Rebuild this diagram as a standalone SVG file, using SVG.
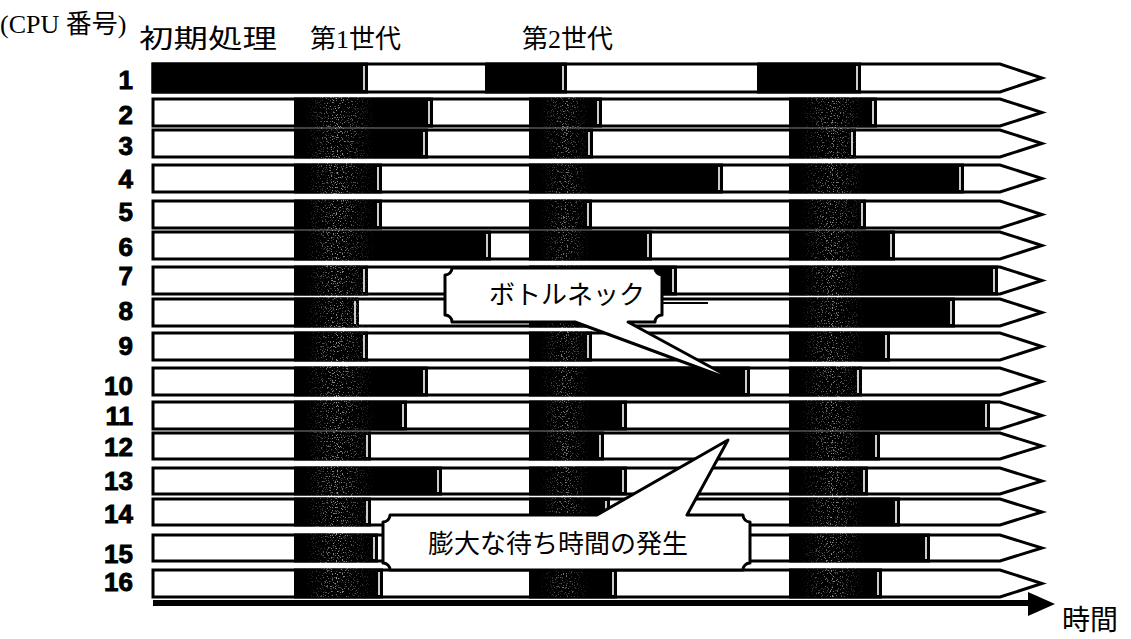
<svg xmlns="http://www.w3.org/2000/svg" width="1131" height="639" viewBox="0 0 1131 639">
<defs>
<style>
.bg{fill:#ffffff}
.row{fill:#ffffff;stroke:#000;stroke-width:3;stroke-linejoin:miter}
.blk{fill:#000;stroke:none}
.gap{stroke:#fff;stroke-width:1.6}
.num{font-family:"Liberation Sans",Arial,sans-serif;font-weight:bold;font-size:26px;fill:#000;stroke:#000;stroke-width:0.9;text-anchor:end}
.head{font-family:"Liberation Serif","Noto Sans CJK JP",serif;font-size:26px;fill:#000}
.call{fill:#fff;stroke:#000;stroke-width:3;stroke-linejoin:round}
.ctext{font-family:"Noto Sans CJK JP",sans-serif;font-size:26px;fill:#000}
</style>
<filter id="speck" filterUnits="userSpaceOnUse" x="280" y="90" width="620" height="515">
<feTurbulence type="fractalNoise" baseFrequency="0.8" numOctaves="2" seed="7" result="n"/>
<feColorMatrix in="n" type="matrix" values="0 0 0 0 1  0 0 0 0 1  0 0 0 0 1  9 0 0 0 -5.3" result="dots"/>
<feComposite in="dots" in2="SourceGraphic" operator="in"/>
</filter>
<linearGradient id="s1" gradientUnits="userSpaceOnUse" x1="305" y1="0" x2="375" y2="0">
<stop offset="0" stop-color="#fff" stop-opacity="0"/>
<stop offset="0.45" stop-color="#fff" stop-opacity="0.6"/>
<stop offset="1" stop-color="#fff" stop-opacity="0"/>
</linearGradient>
<linearGradient id="s2" gradientUnits="userSpaceOnUse" x1="540" y1="0" x2="590" y2="0">
<stop offset="0" stop-color="#fff" stop-opacity="0"/>
<stop offset="0.5" stop-color="#fff" stop-opacity="0.5"/>
<stop offset="1" stop-color="#fff" stop-opacity="0"/>
</linearGradient>
<linearGradient id="s3" gradientUnits="userSpaceOnUse" x1="800" y1="0" x2="865" y2="0">
<stop offset="0" stop-color="#fff" stop-opacity="0"/>
<stop offset="0.5" stop-color="#fff" stop-opacity="0.55"/>
<stop offset="1" stop-color="#fff" stop-opacity="0"/>
</linearGradient>
</defs>
<rect class="bg" x="0" y="0" width="1131" height="639"/>

<g id="headings">
<text class="head" x="0" y="33" font-size="30">(CPU 番号)</text>
<text class="head" x="139" y="48" textLength="138" lengthAdjust="spacingAndGlyphs">初期処理</text>
<text class="head" x="310" y="48">第1世代</text>
<text class="head" x="522" y="48">第2世代</text>
</g>

<g id="row1"><path class="row" d="M153,64 H1000 L1042,78 L1000,92 H153 Z"/>
<rect class="blk" x="151.5" y="62.5" width="216.5" height="31"/><line class="gap" x1="364" y1="66" x2="364" y2="90"/>
<rect class="blk" x="485" y="62.5" width="82" height="31"/><line class="gap" x1="563" y1="66" x2="563" y2="90"/>
<rect class="blk" x="757" y="62.5" width="104" height="31"/><line class="gap" x1="857" y1="66" x2="857" y2="90"/>
<text class="num" x="133" y="89">1</text></g>

<g id="row2"><path class="row" d="M153,99 H1000 L1042,112.5 L1000,126 H153 Z"/>
<rect class="blk" x="294" y="97.5" width="139" height="30"/><line class="gap" x1="429" y1="101" x2="429" y2="124"/>
<rect class="blk" x="529" y="97.5" width="73" height="30"/><line class="gap" x1="598" y1="101" x2="598" y2="124"/>
<rect class="blk" x="789" y="97.5" width="88" height="30"/><line class="gap" x1="873" y1="101" x2="873" y2="124"/>
<text class="num" x="133" y="124">2</text></g>

<g id="row3"><path class="row" d="M153,130 H1000 L1042,143.5 L1000,157 H153 Z"/>
<rect class="blk" x="294" y="128.5" width="134" height="30"/><line class="gap" x1="424" y1="132" x2="424" y2="155"/>
<rect class="blk" x="529" y="128.5" width="64" height="30"/><line class="gap" x1="589" y1="132" x2="589" y2="155"/>
<rect class="blk" x="789" y="128.5" width="67" height="30"/><line class="gap" x1="852" y1="132" x2="852" y2="155"/>
<text class="num" x="133" y="155">3</text></g>

<g id="row4"><path class="row" d="M153,165 H1000 L1042,178.5 L1000,192 H153 Z"/>
<rect class="blk" x="294" y="163.5" width="88" height="30"/><line class="gap" x1="378" y1="167" x2="378" y2="190"/>
<rect class="blk" x="529" y="163.5" width="194" height="30"/><line class="gap" x1="719" y1="167" x2="719" y2="190"/>
<rect class="blk" x="789" y="163.5" width="175" height="30"/><line class="gap" x1="960" y1="167" x2="960" y2="190"/>
<text class="num" x="133" y="188">4</text></g>

<g id="row5"><path class="row" d="M153,201 H1000 L1042,214.5 L1000,228 H153 Z"/>
<rect class="blk" x="294" y="199.5" width="88" height="30"/><line class="gap" x1="378" y1="203" x2="378" y2="226"/>
<rect class="blk" x="529" y="199.5" width="63" height="30"/><line class="gap" x1="588" y1="203" x2="588" y2="226"/>
<rect class="blk" x="789" y="199.5" width="77" height="30"/><line class="gap" x1="862" y1="203" x2="862" y2="226"/>
<text class="num" x="133" y="221">5</text></g>

<g id="row6"><path class="row" d="M153,232 H1000 L1042,245.5 L1000,259 H153 Z"/>
<rect class="blk" x="294" y="230.5" width="197" height="30"/><line class="gap" x1="487" y1="234" x2="487" y2="257"/>
<rect class="blk" x="529" y="230.5" width="123" height="30"/><line class="gap" x1="648" y1="234" x2="648" y2="257"/>
<rect class="blk" x="789" y="230.5" width="106" height="30"/><line class="gap" x1="891" y1="234" x2="891" y2="257"/>
<text class="num" x="133" y="256">6</text></g>

<g id="row7"><path class="row" d="M153,267 H1000 L1042,280.5 L1000,294 H153 Z"/>
<rect class="blk" x="294" y="265.5" width="74" height="30"/><line class="gap" x1="364" y1="269" x2="364" y2="292"/>
<rect class="blk" x="529" y="265.5" width="148" height="30"/><line class="gap" x1="673" y1="269" x2="673" y2="292"/>
<rect class="blk" x="789" y="265.5" width="209" height="30"/><line class="gap" x1="994" y1="269" x2="994" y2="292"/>
<text class="num" x="133" y="285">7</text></g>

<g id="row8"><path class="row" d="M153,299 H1000 L1042,312.5 L1000,326 H153 Z"/>
<rect class="blk" x="294" y="297.5" width="65" height="30"/><line class="gap" x1="355" y1="301" x2="355" y2="324"/>
<rect class="blk" x="529" y="297.5" width="71" height="30"/><line class="gap" x1="596" y1="301" x2="596" y2="324"/>
<rect class="blk" x="789" y="297.5" width="166" height="30"/><line class="gap" x1="951" y1="301" x2="951" y2="324"/>
<line x1="660" y1="303" x2="708" y2="303" stroke="#000" stroke-width="2"/>
<text class="num" x="133" y="320">8</text></g>

<g id="row9"><path class="row" d="M153,333 H1000 L1042,346.5 L1000,360 H153 Z"/>
<rect class="blk" x="294" y="331.5" width="74" height="30"/><line class="gap" x1="364" y1="335" x2="364" y2="358"/>
<rect class="blk" x="529" y="331.5" width="63" height="30"/><line class="gap" x1="588" y1="335" x2="588" y2="358"/>
<rect class="blk" x="789" y="331.5" width="101" height="30"/><line class="gap" x1="886" y1="335" x2="886" y2="358"/>
<text class="num" x="133" y="355">9</text></g>

<g id="row10"><path class="row" d="M153,368 H1000 L1042,381.5 L1000,395 H153 Z"/>
<rect class="blk" x="294" y="366.5" width="134" height="30"/><line class="gap" x1="424" y1="370" x2="424" y2="393"/>
<rect class="blk" x="529" y="366.5" width="221" height="30"/><line class="gap" x1="746" y1="370" x2="746" y2="393"/>
<rect class="blk" x="789" y="366.5" width="73" height="30"/><line class="gap" x1="858" y1="370" x2="858" y2="393"/>
<text class="num" x="133" y="395">10</text></g>

<g id="row11"><path class="row" d="M153,402 H1000 L1042,415.5 L1000,429 H153 Z"/>
<rect class="blk" x="294" y="400.5" width="113" height="30"/><line class="gap" x1="403" y1="404" x2="403" y2="427"/>
<rect class="blk" x="529" y="400.5" width="98" height="30"/><line class="gap" x1="623" y1="404" x2="623" y2="427"/>
<rect class="blk" x="789" y="400.5" width="201" height="30"/><line class="gap" x1="986" y1="404" x2="986" y2="427"/>
<text class="num" x="133" y="425">11</text></g>

<g id="row12"><path class="row" d="M153,433 H1000 L1042,446 L1000,459 H153 Z"/>
<rect class="blk" x="294" y="431.5" width="77" height="29"/><line class="gap" x1="367" y1="435" x2="367" y2="457"/>
<rect class="blk" x="529" y="431.5" width="75" height="29"/><line class="gap" x1="600" y1="435" x2="600" y2="457"/>
<rect class="blk" x="789" y="431.5" width="91" height="29"/><line class="gap" x1="876" y1="435" x2="876" y2="457"/>
<text class="num" x="133" y="456">12</text></g>

<g id="row13"><path class="row" d="M153,468 H1000 L1042,481 L1000,494 H153 Z"/>
<rect class="blk" x="294" y="466.5" width="148" height="29"/><line class="gap" x1="438" y1="470" x2="438" y2="492"/>
<rect class="blk" x="529" y="466.5" width="98" height="29"/><line class="gap" x1="623" y1="470" x2="623" y2="492"/>
<rect class="blk" x="789" y="466.5" width="79" height="29"/><line class="gap" x1="864" y1="470" x2="864" y2="492"/>
<text class="num" x="133" y="490">13</text></g>

<g id="row14"><path class="row" d="M153,499 H1000 L1042,512 L1000,525 H153 Z"/>
<rect class="blk" x="294" y="497.5" width="77" height="29"/><line class="gap" x1="367" y1="501" x2="367" y2="523"/>
<rect class="blk" x="529" y="497.5" width="81" height="29"/><line class="gap" x1="606" y1="501" x2="606" y2="523"/>
<rect class="blk" x="789" y="497.5" width="111" height="29"/><line class="gap" x1="896" y1="501" x2="896" y2="523"/>
<text class="num" x="133" y="523">14</text></g>

<g id="row15"><path class="row" d="M153,535 H1000 L1042,548 L1000,561 H153 Z"/>
<rect class="blk" x="294" y="533.5" width="84" height="29"/><line class="gap" x1="374" y1="537" x2="374" y2="559"/>
<rect class="blk" x="529" y="533.5" width="81" height="29"/><line class="gap" x1="606" y1="537" x2="606" y2="559"/>
<rect class="blk" x="789" y="533.5" width="141" height="29"/><line class="gap" x1="926" y1="537" x2="926" y2="559"/>
<text class="num" x="133" y="563">15</text></g>

<g id="row16"><path class="row" d="M153,570 H1000 L1042,583.5 L1000,597 H153 Z"/>
<rect class="blk" x="294" y="568.5" width="89" height="30"/><line class="gap" x1="379" y1="572" x2="379" y2="595"/>
<rect class="blk" x="529" y="568.5" width="88" height="30"/><line class="gap" x1="613" y1="572" x2="613" y2="595"/>
<rect class="blk" x="789" y="568.5" width="93" height="30"/><line class="gap" x1="878" y1="572" x2="878" y2="595"/>
<text class="num" x="133" y="591">16</text></g>

<g id="speckle" filter="url(#speck)">
<rect x="305" y="97" width="70" height="500" fill="url(#s1)"/>
<rect x="540" y="97" width="50" height="500" fill="url(#s2)"/>
<rect x="800" y="97" width="65" height="500" fill="url(#s3)"/>
</g>

<g id="connectors">
<rect x="153" y="600" width="877" height="6" fill="#000"/>
<polygon points="1028,592 1055,604 1028,616" fill="#000"/>
</g>

<g id="callout-bottleneck">
<path class="call" d="M452,268 H655 A7,7 0 0 0 662,275 V315 A7,7 0 0 0 655,322 H628 L740,383 L575,322 H452 A7,7 0 0 0 445,315 V275 A7,7 0 0 0 452,268 Z"/>
<text class="ctext" x="489" y="304">ボトルネック</text>
</g>

<g id="callout-wait">
<path class="call" d="M390,515 H597 L728,440 L687,515 H743 A7,7 0 0 0 750,522 V563 A7,7 0 0 0 743,570 H390 A7,7 0 0 0 383,563 V522 A7,7 0 0 0 390,515 Z"/>
<text class="ctext" x="428" y="553" font-size="27">膨大な待ち時間の発生</text>
</g>

<g id="time-label">
<text x="1062" y="630" font-size="28" font-family="Noto Sans CJK JP, sans-serif" fill="#000">時間</text>
</g>
</svg>
